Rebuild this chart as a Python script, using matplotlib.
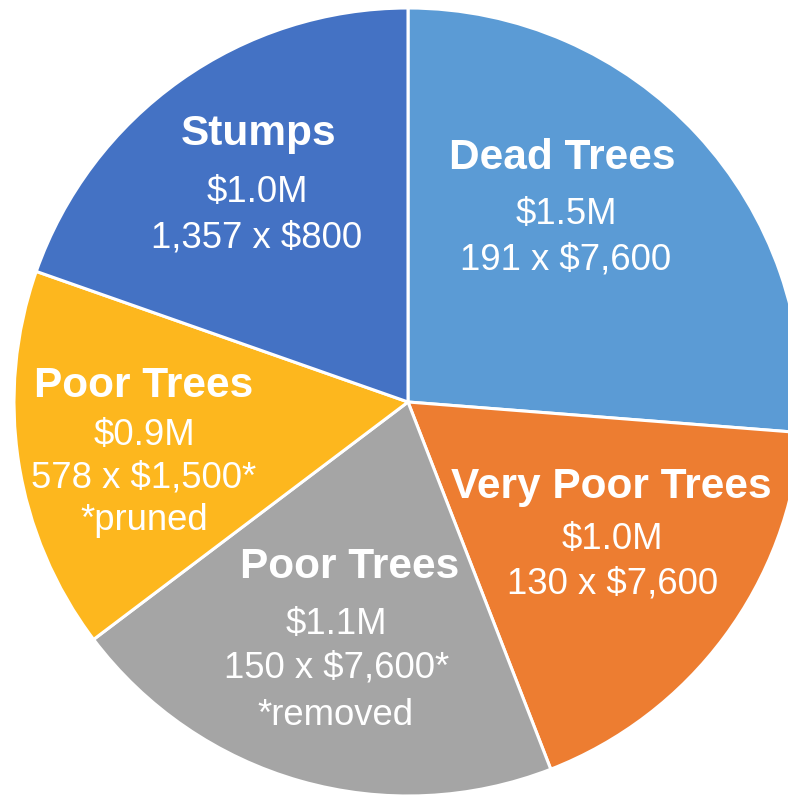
import numpy as np
import matplotlib
matplotlib.use("Agg")
import matplotlib.pyplot as plt

plt.rcParams['font.family'] = ['Liberation Sans', 'DejaVu Sans']

# slices, clockwise from 12 o'clock
categories = ["Dead Trees", "Very Poor Trees", "Poor Trees", "Poor Trees", "Stumps"]
counts = [191, 130, 150, 578, 1357]
unit_costs = [7600, 7600, 7600, 1500, 800]
cost_labels = ["$1.5M", "$1.0M", "$1.1M", "$0.9M", "$1.0M"]
count_labels = ["191 x $7,600", "130 x $7,600", "150 x $7,600*", "578 x $1,500*", "1,357 x $800"]
notes = ["", "", "*removed", "*pruned", ""]

values = np.array(counts) * np.array(unit_costs)
colors = ["#5B9BD5", "#ED7D31", "#A5A5A5", "#FDB71E", "#4472C4"]

# label layout in pixels (x centre of each line, baselines)
label_x = [[562, 566, 566], [611, 612, 613], [350, 336, 337, 336], [144, 144, 144, 144], [259, 257, 257]]
label_base = [[169, 224, 269], [498, 549, 593], [578, 634, 678, 725], [397, 445, 488, 530], [145, 202, 248]]

W, H = 788, 795
cx, cy, r = 408, 402, 394

fig = plt.figure(figsize=(W / 100, H / 100), dpi=100)
ax = fig.add_axes([0, 0, 1, 1])
ax.pie(values, colors=colors, startangle=90, counterclock=False, radius=1,
       wedgeprops=dict(edgecolor='white', linewidth=2.2))
ax.set_xlim(-cx / r, (W - cx) / r)
ax.set_ylim(-(H - cy) / r, cy / r)
ax.set_aspect('auto')
ax.axis('off')


def to_data(px, py):
    return (px - cx) / r, (cy - py) / r


for i, name in enumerate(categories):
    lines = [name, cost_labels[i], count_labels[i]]
    if notes[i]:
        lines.append(notes[i])
    for j, txt in enumerate(lines):
        x, y = to_data(label_x[i][j], label_base[i][j])
        if j == 0:
            ax.text(x, y, txt, color='white', fontsize=30.5, fontweight='bold',
                    ha='center', va='baseline')
        else:
            ax.text(x, y, txt, color='white', fontsize=26.3,
                    ha='center', va='baseline')

fig.savefig("out.png", dpi=100)
